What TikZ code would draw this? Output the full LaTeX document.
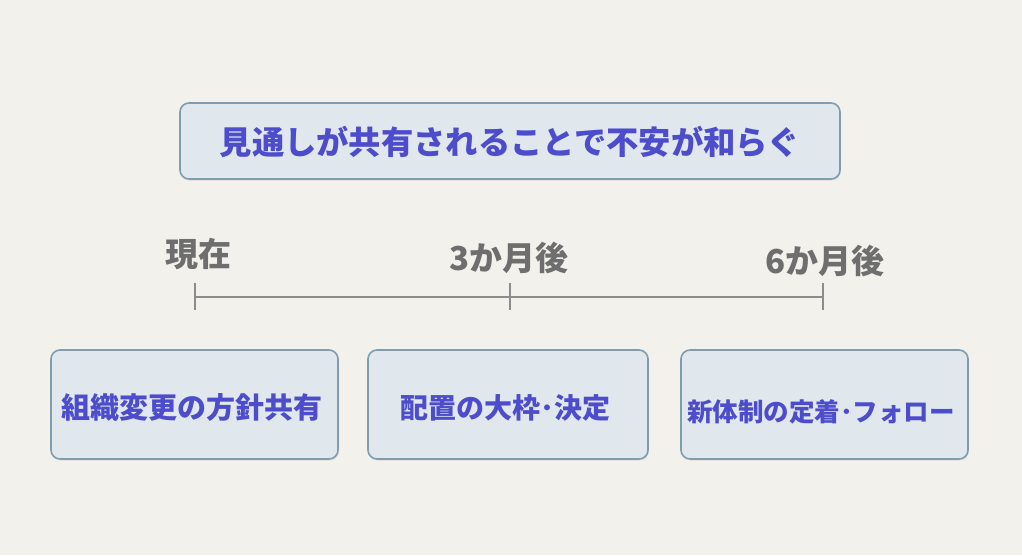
\documentclass[tikz,border=0pt]{standalone}
\usepackage{fontspec}
\newfontfamily\jp{Noto Sans CJK JP}
\definecolor{bg}{HTML}{F2F1EC}
\definecolor{boxfill}{HTML}{E0E8EE}
\definecolor{boxdraw}{HTML}{7F9DAE}
\definecolor{bluetext}{HTML}{4C4CCC}
\definecolor{graytext}{HTML}{6E6E6E}
\definecolor{linegray}{HTML}{8C8C8C}
\usetikzlibrary{shadows}
\tikzset{
  box/.style={draw=boxdraw, line width=1.6pt, fill=boxfill, rounded corners=9pt,
    drop shadow={shadow xshift=1pt, shadow yshift=-1.5pt, opacity=0.15}},
  boxtext/.style={text=bluetext},
  timelabel/.style={font=\jp\bfseries\fontsize{33}{38}\selectfont, text=graytext},
  tl/.style={draw=linegray, line width=2.2pt},
}
\begin{document}
\begin{tikzpicture}[x=1pt,y=-1pt]
\fill[bg] (0,0) rectangle (1022,555);
\useasboundingbox (0,0) rectangle (1022,555);
% title box
\draw[box] (180,103) rectangle (840,179);
\node[font=\jp\bfseries\fontsize{32.3}{36}\selectfont, text=bluetext] (title) at (510,142) {見通しが共有されることで不安が和らぐ};
% timeline
\coordinate (t0) at (195,297);
\coordinate (t1) at (510,297);
\coordinate (t2) at (823,297);
\draw[tl] (t0) -- (t2);
\draw[tl] ([yshift=-13]t0) -- ([yshift=14]t0);
\draw[tl] ([yshift=-13]t1) -- ([yshift=14]t1);
\draw[tl] ([yshift=-13]t2) -- ([yshift=14]t2);
\node[timelabel] (l0) at (198,254) {現在};
\node[timelabel] (l1) at (509,258) {3か月後};
\node[timelabel] (l2) at (825,261) {6か月後};
% bottom boxes
\draw[box] (51,350) rectangle (338,459);
\draw[box] (368,350) rectangle (648,459);
\draw[box] (681,350) rectangle (968,459);
\node[boxtext, font=\jp\bfseries\fontsize{29}{34}\selectfont] (b1) at (192,408) {組織変更の方針共有};
\node[boxtext, font=\jp\bfseries\fontsize{28}{33}\selectfont] (b2) at (505,408) {配置の大枠･決定};
\node[boxtext, font=\jp\bfseries\fontsize{25.5}{30}\selectfont] (b3) at (821,412) {新体制の定着･フォロー};
\end{tikzpicture}
\end{document}
